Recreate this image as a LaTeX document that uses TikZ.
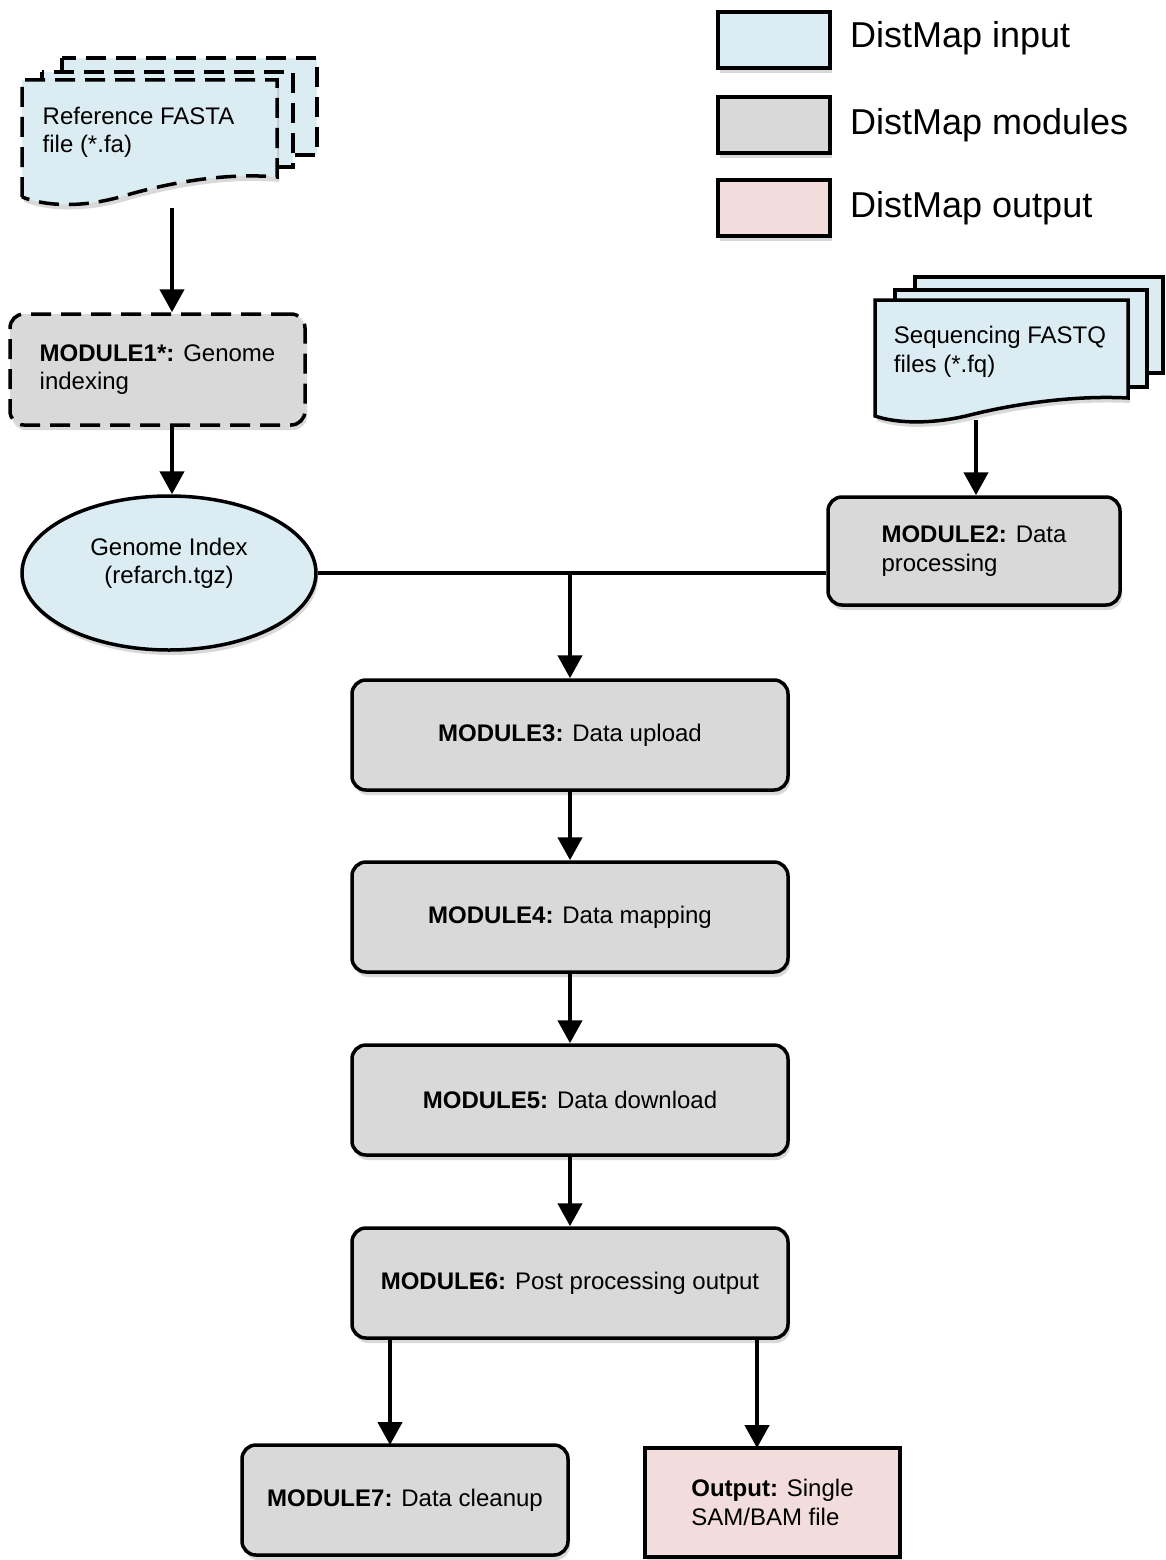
\documentclass[tikz,border=0pt]{standalone}
\usepackage{fontspec}
\setmainfont{Liberation Sans}
\usetikzlibrary{arrows.meta,shapes.geometric,shadows}
\definecolor{inblue}{RGB}{219,236,242}
\definecolor{modgray}{RGB}{217,217,217}
\definecolor{outpink}{RGB}{242,220,220}
\begin{document}
\begin{tikzpicture}[x=1pt,y=-1pt,
  font=\fontsize{24}{28.5}\selectfont,
  shad/.style={drop shadow={shadow xshift=2pt,shadow yshift=-5pt,opacity=0.3}},
  boxline/.style={draw=black,line width=3.5pt},
  dashline/.style={dash pattern=on 20pt off 10pt},
  modbox/.style={boxline,rounded corners=14pt,fill=modgray,shad,align=left,inner sep=0pt},
  docpage/.style={boxline,fill=inblue},
  legbox/.style={boxline,shad,minimum width=112pt,minimum height=56pt,inner sep=0pt},
  legtext/.style={anchor=west,font=\fontsize{36}{40}\selectfont,inner sep=0pt},
  plaintext/.style={align=left,inner sep=0pt},
  arr/.style={line width=4.5pt,-{Triangle[length=23pt,width=24pt]}},
  conn/.style={line width=4.5pt}
]
\useasboundingbox (0,0) rectangle (1166,1560);

% legend
\node[legbox,fill=inblue] (lin) at (774,40) {};
\node[legbox,fill=modgray] (lmod) at (774,125) {};
\node[legbox,fill=outpink] (lout) at (774,208) {};
\node[legtext] (tin) at (850,38) {DistMap input};
\node[legtext] (tmod) at (850,125) {DistMap modules};
\node[legtext] (tout) at (850,208) {DistMap output};

% reference FASTA stack (dashed)
\filldraw[docpage,dashline] (62,58) rectangle (317,155);
\filldraw[docpage,dashline] (42,72) rectangle (293,167);
\filldraw[docpage,dashline,shad] (22,197) -- (22,80) -- (277,80) -- (277,177)
  .. controls (220,172) and (160,185) .. (120,197)
  .. controls (80,208) and (45,206) .. (22,197) -- cycle;
\node[plaintext] (fasta) at (138.5,132.5) {Reference FASTA\\file (*.fa)};
\coordinate (fastabot) at (172,208);

% sequencing FASTQ stack
\filldraw[docpage] (915,277) rectangle (1163,373);
\filldraw[docpage] (895,290) rectangle (1147,387);
\filldraw[docpage,shad] (875,416) -- (875,300) -- (1128,300) -- (1128,398)
  .. controls (1070,395) and (1010,405) .. (970,415)
  .. controls (930,425) and (895,423) .. (875,416) -- cycle;
\node[plaintext] (fastq) at (1000,352) {Sequencing FASTQ\\files (*.fq)};
\coordinate (fastqbot) at (976,420);

% modules
\node[modbox,dashline,minimum width=295pt,minimum height=111pt] (mod1) at (157.5,369.5)
  {\textbf{MODULE1*:} Genome\\indexing};
\node[ellipse,boxline,fill=inblue,shad,minimum width=294pt,minimum height=154pt,inner sep=0pt] (genome) at (169,573) {};
\node[plaintext,align=center] (genometext) at (169,563.5) {Genome Index\\(refarch.tgz)};
\node[modbox,minimum width=292pt,minimum height=108pt] (mod2) at (974,551)
  {\textbf{MODULE2:} Data\\processing};
\node[modbox,minimum width=436pt,minimum height=110pt] (mod3) at (570,735)
  {\textbf{MODULE3:} Data upload};
\node[modbox,minimum width=436pt,minimum height=110pt] (mod4) at (570,917)
  {\textbf{MODULE4:} Data mapping};
\node[modbox,minimum width=436pt,minimum height=110pt] (mod5) at (570,1100)
  {\textbf{MODULE5:} Data download};
\node[modbox,minimum width=436pt,minimum height=110pt] (mod6) at (570,1283)
  {\textbf{MODULE6:} Post processing output};
\node[modbox,minimum width=326pt,minimum height=110pt] (mod7) at (405,1500)
  {\textbf{MODULE7:} Data cleanup};
\node[boxline,fill=outpink,shad,align=left,inner sep=0pt,minimum width=255pt,minimum height=109pt] (out) at (772.5,1502.5)
  {\textbf{Output:} Single\\SAM/BAM file};

% connectors
\draw[arr] (fastabot) -- (fastabot |- mod1.north);
\draw[arr] (fastabot |- mod1.south) -- (fastabot |- genome.north);
\draw[arr] (fastqbot) -- (fastqbot |- mod2.north);
\draw[conn] (genome.east) -- (genome.east -| mod2.west);
\coordinate (junc) at (genome.east -| mod3.north);
\draw[arr] (junc) -- (mod3.north);
\draw[arr] (mod3) -- (mod4);
\draw[arr] (mod4) -- (mod5);
\draw[arr] (mod5) -- (mod6);
\coordinate (c7) at (390,1445);
\coordinate (co) at (757,1448);
\draw[arr] (mod6.south -| c7) -- (c7);
\draw[arr] (mod6.south -| co) -- (co);
\end{tikzpicture}
\end{document}
